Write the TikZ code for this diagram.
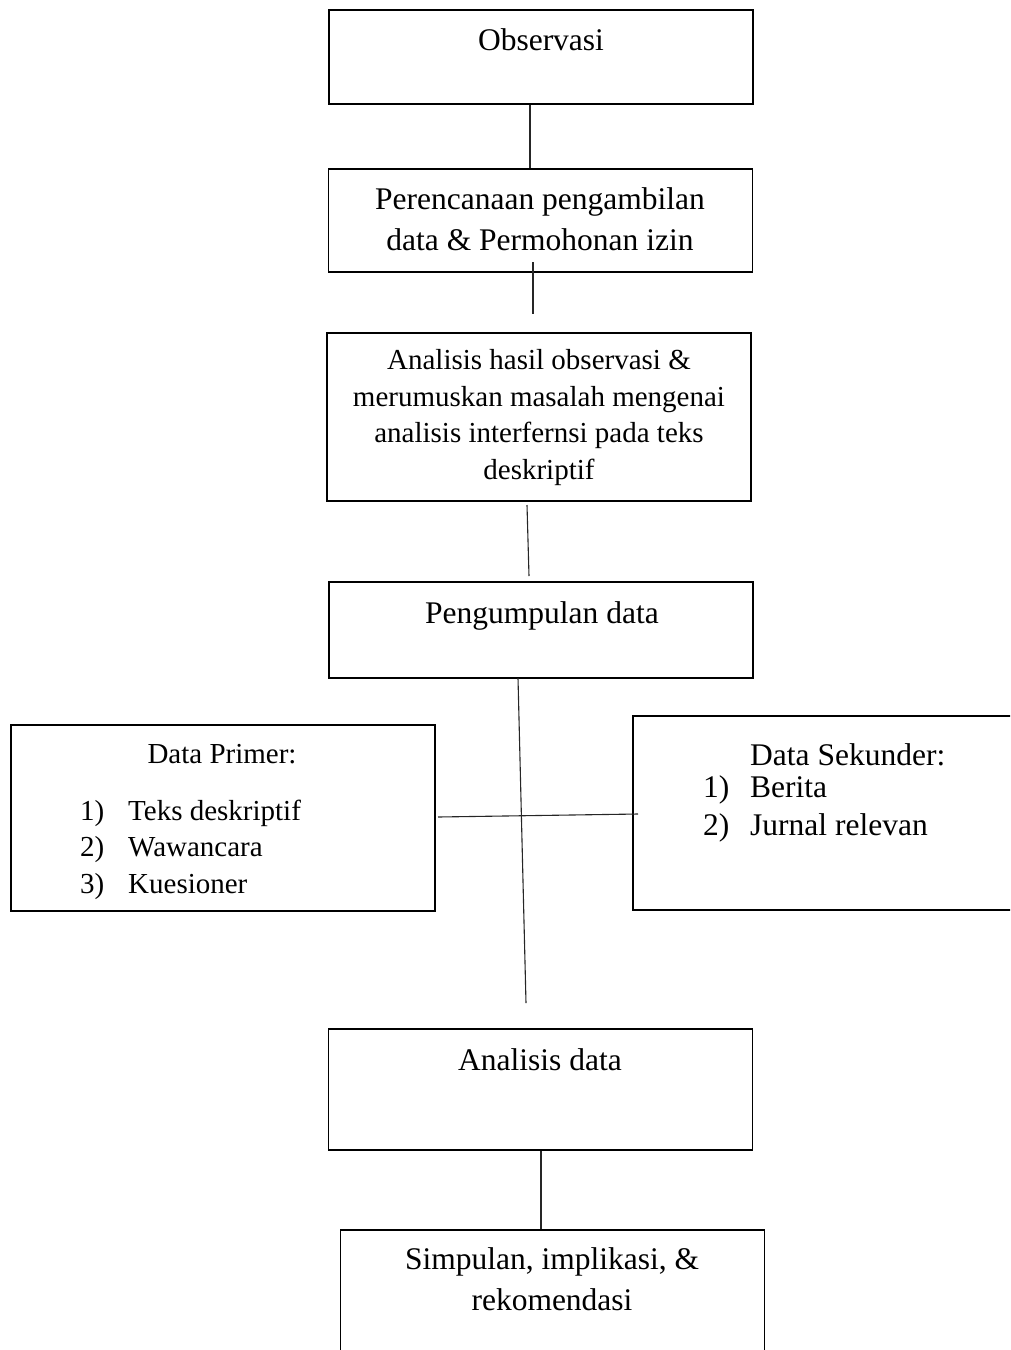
\documentclass[tikz,border=0pt]{standalone}
\usepackage{fontspec}
\setmainfont{Liberation Serif}
\begin{document}
\begin{tikzpicture}[x=1pt,y=-1pt]
    \useasboundingbox (0,0) rectangle (1010,1350);
    \clip (0,0) rectangle (1010,1350);
    \begin{scope}[every node/.style={rectangle,draw,line width=1.8pt,inner sep=0pt,minimum width=424pt}]
      \node[minimum height=94pt] (obs) at (541,57) {};
      \node[minimum height=103pt] (plan) at (540.5,220.5) {};
      \node[minimum height=168pt] (anal) at (539,417) {};
      \node[minimum height=96pt] (peng) at (541,630) {};
      \node[minimum height=186pt] (prim) at (223,818) {};
      \node[minimum height=194pt] (sek) at (845,813) {};
      \node[minimum height=121pt] (adata) at (540.5,1089.5) {};
      \node[minimum height=150pt] (simp) at (552.5,1305) {};
    \end{scope}
    \begin{scope}[every node/.style={inner sep=0pt,align=center,font=\fontsize{31.5}{41}\selectfont}]
      \node[anchor=base] (obstxt) at (541,50) {Observasi};
      \node[anchor=base] (plantxt) at (540,250) {Perencanaan pengambilan\\data \& Permohonan izin};
      \node[anchor=base,font=\fontsize{29}{36.5}\selectfont] (analtxt) at (539,479)
        {Analisis hasil observasi \&\\merumuskan masalah mengenai\\analisis interfernsi pada teks\\deskriptif};
      \node[anchor=base] (pengtxt) at (542,623) {Pengumpulan data};
      \node[anchor=base,font=\fontsize{29}{36.5}\selectfont] (primtxt) at (222,763) {Data Primer:};
      \node[anchor=base west,align=left,font=\fontsize{29}{36.5}\selectfont] (primlist) at (80,893)
        {\makebox[48pt][l]{1)}Teks deskriptif\\\makebox[48pt][l]{2)}Wawancara\\\makebox[48pt][l]{3)}Kuesioner};
      \node[anchor=base west] (sektxt) at (750,765) {Data Sekunder:};
      \node[anchor=base west,align=left,font=\fontsize{31.5}{38}\selectfont] (seklist) at (703,835)
        {\makebox[47pt][l]{1)}Berita\\\makebox[47pt][l]{2)}Jurnal relevan};
      \node[anchor=base] (adatatxt) at (540,1070) {Analisis data};
      \node[anchor=base] (simptxt) at (552,1310) {Simpulan, implikasi, \&\\rekomendasi};
    \end{scope}
    \coordinate (planend) at (533,262);
    \coordinate (analtop) at (533,314);
    \coordinate (analend) at (527,505);
    \coordinate (pengtop) at (529,576);
    \coordinate (pengend) at (518,678);
    \coordinate (adatatop) at (526,1003);
    \coordinate (primend) at (438,817);
    \coordinate (sekend) at (638,814);
    \begin{scope}[every edge/.style={draw=black!85,line width=1.1pt}]
      \path ([xshift=-11pt]obs.south) edge ([xshift=-10.5pt]plan.north);
      \path (planend) edge (analtop);
      \path (analend) edge (pengtop);
      \path (pengend) edge (adatatop);
      \path (primend) edge (sekend);
      \path ([xshift=0.5pt]adata.south) edge ([xshift=-11.5pt]simp.north);
    \end{scope}
  \end{tikzpicture}
\end{document}
